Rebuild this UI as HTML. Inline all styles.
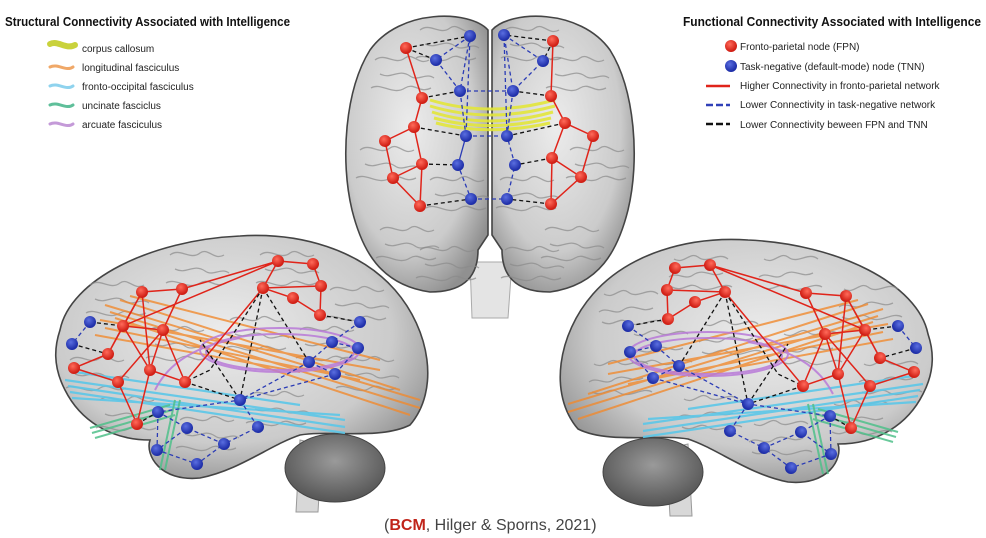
<!DOCTYPE html>
<html><head><meta charset="utf-8"><style>
html,body{margin:0;padding:0;background:#fff;}
svg{display:block;font-family:"Liberation Sans",sans-serif;}
</style></head><body>
<svg width="986" height="538" viewBox="0 0 986 538" xmlns="http://www.w3.org/2000/svg">
<defs>
<radialGradient id="brain" cx="45%" cy="40%" r="65%"><stop offset="0" stop-color="#ececec"/><stop offset="0.7" stop-color="#cbcbcb"/><stop offset="1" stop-color="#909090"/></radialGradient>
<radialGradient id="cb" cx="50%" cy="40%" r="60%"><stop offset="0" stop-color="#9a9a9a"/><stop offset="1" stop-color="#555"/></radialGradient>
<radialGradient id="rn" cx="40%" cy="35%" r="60%"><stop offset="0" stop-color="#ff6a5a"/><stop offset="1" stop-color="#d01e14"/></radialGradient>
<radialGradient id="bn" cx="40%" cy="35%" r="60%"><stop offset="0" stop-color="#5a6ee0"/><stop offset="1" stop-color="#1e2ea8"/></radialGradient>
<g id="gyri" fill="none" stroke="#8a8a8a" stroke-width="1.3" opacity="0.7">
 <path d="M0,0 c10,-8 20,6 30,-2 c8,-6 14,8 24,2 M5,14 c12,6 18,-6 30,2 c8,6 16,-4 24,2 M-4,28 c10,-6 22,8 34,0 c10,-6 14,6 26,0"/>
</g>
<g id="side">
  <path d="M300,440 L296,512 L318,512 L322,445 Z" fill="#d8d8d8" stroke="#999"/>
  <ellipse cx="335" cy="468" rx="50" ry="34" fill="url(#cb)" stroke="#444"/>
  <path d="M60,330 C70,280 150,240 240,236 C300,232 360,250 395,290 C430,330 440,390 410,425 C380,440 330,430 300,435 C270,445 240,470 200,478 C160,482 145,455 150,440 C110,440 80,420 65,390 C52,365 55,345 60,330 Z" fill="url(#brain)" stroke="#444" stroke-width="1.6"/>
  <use href="#gyri" x="90" y="285"/><use href="#gyri" x="170" y="255"/><use href="#gyri" x="260" y="255"/><use href="#gyri" x="330" y="290"/>
  <use href="#gyri" x="70" y="360"/><use href="#gyri" x="150" y="330"/><use href="#gyri" x="230" y="320"/><use href="#gyri" x="340" y="360"/>
  <use href="#gyri" x="180" y="420"/><use href="#gyri" x="250" y="395"/><use href="#gyri" x="100" y="400"/><use href="#gyri" x="300" y="330"/>
  <g fill="none" stroke="#f08a2e" stroke-width="2" opacity="0.8">
   <path d="M105,305 L420,400 M110,312 L420,408 M115,318 L410,415 M100,320 L380,370 M120,300 L400,390 M105,328 L360,380 M130,296 L380,360 M95,335 L300,372"/>
  </g>
  <g fill="none" stroke="#5bc6e8" stroke-width="2.2" opacity="0.9">
   <path d="M65,380 L345,420 M68,386 L345,427 M70,392 L345,433 M72,398 L340,415 M75,372 L300,405"/>
  </g>
  <g fill="none" stroke="#4fbf8a" stroke-width="2" opacity="0.85">
   <path d="M90,428 L170,405 M92,433 L172,410 M95,438 L175,415 M160,470 L175,400 M165,470 L180,400"/>
  </g>
  <g fill="none" stroke="#b97ad8" stroke-width="2" opacity="0.85">
   <ellipse cx="280" cy="350" rx="80" ry="22"/><ellipse cx="280" cy="352" rx="74" ry="18"/><path d="M155,390 C170,360 200,345 240,338"/>
  </g>
  <g stroke="#e0241a" stroke-width="1.5" fill="none">
   <path d="M278,261 L313,264 L321,286 L320,315 L293,298 L263,288 L278,261 L182,289 L142,292 L123,326 L163,330 L182,289 M263,288 L321,286 M142,292 L108,354 L123,326 L150,370 L163,330 L118,382 L137,424 L150,370 L185,382 L163,330 M108,354 L74,368 L118,382 M185,382 L263,288 M123,326 L278,261 M142,292 L150,370"/>
  </g>
  <g stroke="#2a3bb5" stroke-width="1.3" fill="none" stroke-dasharray="4,3">
   <path d="M90,322 L72,344 M360,322 L332,342 L358,348 L335,374 L309,362 M332,342 L309,362 M309,362 L240,400 L158,412 L187,428 L224,444 L197,464 L157,450 L187,428 M240,400 L258,427 L224,444 M335,374 L240,400 M158,412 L157,450"/>
  </g>
  <g stroke="#111" stroke-width="1.3" fill="none" stroke-dasharray="4,3">
   <path d="M263,288 L240,400 L185,382 M263,288 L309,362 M320,315 L360,322 M263,288 L210,370 L185,382 M137,424 L158,412 M90,322 L123,326 M72,344 L108,354 M240,400 L200,340"/>
  </g>
  <g fill="url(#rn)">
   <circle cx="278" cy="261" r="6"/><circle cx="313" cy="264" r="6"/><circle cx="263" cy="288" r="6"/><circle cx="321" cy="286" r="6"/><circle cx="293" cy="298" r="6"/><circle cx="320" cy="315" r="6"/><circle cx="182" cy="289" r="6"/><circle cx="142" cy="292" r="6"/><circle cx="123" cy="326" r="6"/><circle cx="163" cy="330" r="6"/><circle cx="108" cy="354" r="6"/><circle cx="74" cy="368" r="6"/><circle cx="150" cy="370" r="6"/><circle cx="118" cy="382" r="6"/><circle cx="185" cy="382" r="6"/><circle cx="137" cy="424" r="6"/>
  </g>
  <g fill="url(#bn)">
   <circle cx="90" cy="322" r="6"/><circle cx="72" cy="344" r="6"/><circle cx="360" cy="322" r="6"/><circle cx="332" cy="342" r="6"/><circle cx="358" cy="348" r="6"/><circle cx="309" cy="362" r="6"/><circle cx="335" cy="374" r="6"/><circle cx="240" cy="400" r="6"/><circle cx="158" cy="412" r="6"/><circle cx="187" cy="428" r="6"/><circle cx="258" cy="427" r="6"/><circle cx="224" cy="444" r="6"/><circle cx="157" cy="450" r="6"/><circle cx="197" cy="464" r="6"/>
  </g>
</g>
</defs>

<!-- legends -->
<text x="5" y="26" font-size="12.5" font-weight="bold" fill="#111" textLength="285" lengthAdjust="spacingAndGlyphs">Structural Connectivity Associated with Intelligence</text>
<g stroke-linecap="round" fill="none">
<path d="M50,44 C58,40 66,50 75,45" stroke="#c9d23c" stroke-width="6"/>
<path d="M50,67 C58,63 66,72 73,67" stroke="#f0a868" stroke-width="3"/>
<path d="M50,86 C58,82 66,91 73,86" stroke="#8fd3ee" stroke-width="3"/>
<path d="M50,105 C58,101 66,110 73,105" stroke="#5fbf9a" stroke-width="3"/>
<path d="M50,124 C58,120 66,129 73,124" stroke="#c49ad8" stroke-width="3"/>
</g>
<g font-size="10" fill="#222">
<text x="82" y="52">corpus callosum</text>
<text x="82" y="71">longitudinal fasciculus</text>
<text x="82" y="90">fronto-occipital fasciculus</text>
<text x="82" y="109">uncinate fasciclus</text>
<text x="82" y="128">arcuate fasciculus</text>
</g>
<text x="683" y="26" font-size="12.5" font-weight="bold" fill="#111" textLength="298" lengthAdjust="spacingAndGlyphs">Functional Connectivity Associated with Intelligence</text>
<circle cx="731" cy="46" r="6" fill="url(#rn)"/>
<circle cx="731" cy="66" r="6" fill="url(#bn)"/>
<line x1="706" y1="86" x2="730" y2="86" stroke="#e0241a" stroke-width="2.5"/>
<line x1="706" y1="105" x2="730" y2="105" stroke="#3040b8" stroke-width="2.5" stroke-dasharray="7,3"/>
<line x1="706" y1="124" x2="730" y2="124" stroke="#111" stroke-width="2.5" stroke-dasharray="7,3"/>
<g font-size="10" fill="#222">
<text x="740" y="50">Fronto-parietal node (FPN)</text>
<text x="740" y="70">Task-negative (default-mode) node (TNN)</text>
<text x="740" y="89">Higher Connectivity in fronto-parietal network</text>
<text x="740" y="108">Lower Connectivity in task-negative network</text>
<text x="740" y="128">Lower Connectivity beween FPN and TNN</text>
</g>

<!-- top brain -->
<path d="M470,262 L472,318 L508,318 L512,262 Z" fill="#e4e4e4" stroke="#aaa"/>
<path d="M488,30 C470,10 400,8 370,50 C345,90 340,160 352,210 C362,250 380,285 430,292 C460,292 478,280 478,250 L488,235 Z" fill="url(#brain)" stroke="#444" stroke-width="1.6"/>
<path d="M492,30 C510,10 580,8 610,50 C635,90 640,160 628,210 C618,250 600,285 550,292 C520,292 502,280 502,250 L492,235 Z" fill="url(#brain)" stroke="#444" stroke-width="1.6"/>
<use href="#gyri" x="375" y="60"/><use href="#gyri" x="420" y="30"/><use href="#gyri" x="360" y="150"/><use href="#gyri" x="380" y="230"/><use href="#gyri" x="430" y="180"/><use href="#gyri" x="420" y="250"/>
<use href="#gyri" x="550" y="60"/><use href="#gyri" x="505" y="30"/><use href="#gyri" x="570" y="150"/><use href="#gyri" x="545" y="230"/><use href="#gyri" x="500" y="180"/><use href="#gyri" x="505" y="250"/>
<g stroke="#e2e63a" stroke-width="3" fill="none" opacity="0.9">
<path d="M430,100 C470,112 510,112 555,100 M430,106 C470,118 510,118 555,106 M432,112 C470,124 510,124 553,112 M434,118 C470,128 510,128 551,118 M436,123 C470,132 510,132 550,123"/>
</g>
<g stroke="#e0241a" stroke-width="1.5" fill="none">
<path d="M406,48 L422,98 L414,127 L385,141 L393,178 L420,206 L422,164 L414,127 M393,178 L422,164"/>
<path d="M553,41 L551,96 L565,123 L593,136 L581,177 L551,204 L552,158 L565,123 M581,177 L552,158"/>
</g>
<g stroke="#2a3bb5" stroke-width="1.3" fill="none" stroke-dasharray="4,3">
<path d="M470,36 L436,60 L460,91 L470,36 L466,136 L458,165 L471,199 M460,91 L466,136 M504,35 L543,61 L513,91 L504,35 L507,136 L515,165 L507,199 M513,91 L507,136 M460,91 L513,91 M466,136 L507,136 M471,199 L507,199 M458,165 L466,136"/>
</g>
<g stroke="#111" stroke-width="1.3" fill="none" stroke-dasharray="4,3">
<path d="M406,48 L470,36 M406,48 L436,60 M553,41 L504,35 M553,41 L543,61 M414,127 L466,136 M422,164 L458,165 M420,206 L471,199 M565,123 L507,136 M552,158 L515,165 M551,204 L507,199 M422,98 L460,91 M551,96 L513,91"/>
</g>
<g fill="url(#rn)">
<circle cx="406" cy="48" r="6"/><circle cx="422" cy="98" r="6"/><circle cx="414" cy="127" r="6"/><circle cx="385" cy="141" r="6"/><circle cx="422" cy="164" r="6"/><circle cx="393" cy="178" r="6"/><circle cx="420" cy="206" r="6"/>
<circle cx="553" cy="41" r="6"/><circle cx="551" cy="96" r="6"/><circle cx="565" cy="123" r="6"/><circle cx="593" cy="136" r="6"/><circle cx="552" cy="158" r="6"/><circle cx="581" cy="177" r="6"/><circle cx="551" cy="204" r="6"/>
</g>
<g fill="url(#bn)">
<circle cx="470" cy="36" r="6"/><circle cx="436" cy="60" r="6"/><circle cx="460" cy="91" r="6"/><circle cx="466" cy="136" r="6"/><circle cx="458" cy="165" r="6"/><circle cx="471" cy="199" r="6"/>
<circle cx="504" cy="35" r="6"/><circle cx="543" cy="61" r="6"/><circle cx="513" cy="91" r="6"/><circle cx="507" cy="136" r="6"/><circle cx="515" cy="165" r="6"/><circle cx="507" cy="199" r="6"/>
</g>

<!-- side brains -->
<use href="#side"/>
<g transform="translate(988,4) scale(-1,1)"><use href="#side"/></g>

<text x="384" y="530" font-size="16" fill="#444">(<tspan fill="#c0241a" font-weight="bold">BCM</tspan>, Hilger &amp; Sporns, 2021)</text>
</svg>
</body></html>
